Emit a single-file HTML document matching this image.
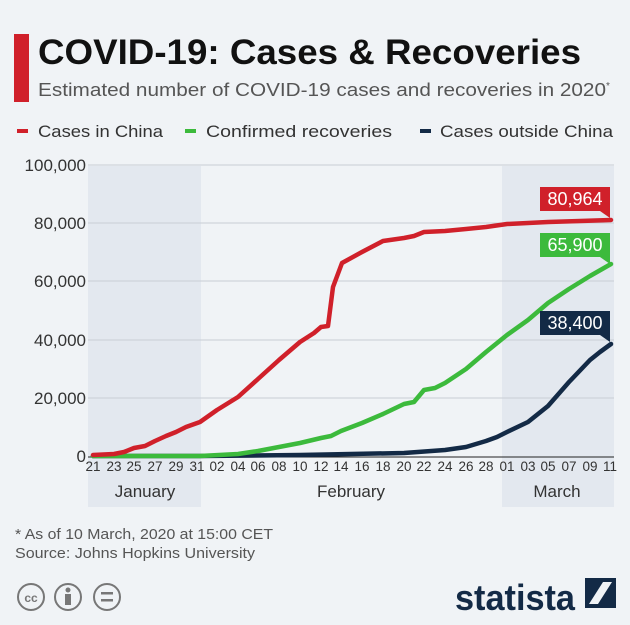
<!DOCTYPE html>
<html><head><meta charset="utf-8"><style>
body{margin:0;background:#f0f3f6;}
svg{display:block;font-family:"Liberation Sans",sans-serif;}
</style></head><body>
<svg width="630" height="625" viewBox="0 0 630 625" xmlns="http://www.w3.org/2000/svg">
<rect width="630" height="625" fill="#f0f3f6"/>
<rect x="14" y="34" width="15" height="68" fill="#d0202a"/>
<text x="38" y="64" font-size="35" font-weight="bold" fill="#111" textLength="543" lengthAdjust="spacingAndGlyphs">COVID-19: Cases &amp; Recoveries</text>
<text x="38" y="96" font-size="18.5" fill="#555"><tspan textLength="568" lengthAdjust="spacingAndGlyphs">Estimated number of COVID-19 cases and recoveries in 2020</tspan><tspan font-size="10" dy="-7">*</tspan></text>
<g font-size="17" fill="#333">
<rect x="17" y="129" width="11" height="4" fill="#d0202a"/><text x="38" y="137" textLength="125" lengthAdjust="spacingAndGlyphs">Cases in China</text>
<rect x="185" y="129" width="11" height="4" fill="#3cba3c"/><text x="206" y="137" textLength="186" lengthAdjust="spacingAndGlyphs">Confirmed recoveries</text>
<rect x="420" y="129" width="11" height="4" fill="#132a46"/><text x="440" y="137" textLength="173" lengthAdjust="spacingAndGlyphs">Cases outside China</text>
</g>
<rect x="88" y="166" width="113" height="341" fill="#e3e8ef"/>
<rect x="502" y="166" width="112" height="341" fill="#e3e8ef"/>
<g stroke="#c9ced4" stroke-width="1">
<line x1="88" y1="165" x2="614" y2="165"/><line x1="88" y1="223" x2="614" y2="223"/>
<line x1="88" y1="281" x2="614" y2="281"/><line x1="88" y1="340" x2="614" y2="340"/>
<line x1="88" y1="398" x2="614" y2="398"/>
</g>
<line x1="88" y1="457" x2="614" y2="457" stroke="#222" stroke-width="1"/>
<g font-size="17" fill="#333" text-anchor="end">
<text x="86" y="171">100,000</text><text x="86" y="229">80,000</text><text x="86" y="287">60,000</text>
<text x="86" y="346">40,000</text><text x="86" y="404">20,000</text><text x="86" y="462">0</text>
</g>
<g font-size="13.5" fill="#333" text-anchor="middle">
<text x="93" y="471">21</text><text x="114" y="471">23</text><text x="134" y="471">25</text><text x="155" y="471">27</text><text x="176" y="471">29</text><text x="197" y="471">31</text>
<text x="217" y="471">02</text><text x="238" y="471">04</text><text x="258" y="471">06</text><text x="279" y="471">08</text><text x="300" y="471">10</text><text x="321" y="471">12</text><text x="341" y="471">14</text><text x="362" y="471">16</text><text x="383" y="471">18</text><text x="404" y="471">20</text><text x="424" y="471">22</text><text x="445" y="471">24</text><text x="466" y="471">26</text><text x="486" y="471">28</text>
<text x="507" y="471">01</text><text x="528" y="471">03</text><text x="548" y="471">05</text><text x="569" y="471">07</text><text x="590" y="471">09</text><text x="610" y="471">11</text>
</g>
<g font-size="17" fill="#333" text-anchor="middle">
<text x="145" y="497">January</text><text x="351" y="497">February</text><text x="557" y="497">March</text>
</g>
<g fill="none" stroke-width="4.5" stroke-linejoin="round" stroke-linecap="round">
<polyline stroke="#132a46" points="93,456 200,456 300,455 404,453 445,450 466,447 486,441 497,437 507,432 528,422 548,406 569,382 590,360 600,352 611,344"/>
<polyline stroke="#3cba3c" points="93,456 200,456 238,454 258,451 279,447 300,443 321,438 331,436 341,431 362,423 383,414 404,404 414,402 424,390 435,388 445,383 466,369 486,352 507,335 528,320 548,303 569,289 590,276 611,264"/>
<polyline stroke="#d0202a" points="93,455 114,454 124,452 134,448 145,446 155,441 166,436 176,432 186,427 200,422 217,410 238,397 258,379 279,360 300,342 314,333 321,327 328,326 333,287 342,263 362,252 383,241 404,238 414,236 424,232 445,231 466,229 486,227 507,224 548,222 580,221 611,220"/>
</g>
<g font-size="18" fill="#fff" text-anchor="middle">
<rect x="540" y="187" width="70" height="24" fill="#d0202a"/><polygon points="600,211 610,211 610,218" fill="#d0202a"/><text x="575" y="205">80,964</text>
<rect x="540" y="233" width="70" height="24" fill="#3cba3c"/><polygon points="600,257 610,257 610,264" fill="#3cba3c"/><text x="575" y="251">65,900</text>
<rect x="540" y="311" width="70" height="24" fill="#132a46"/><polygon points="600,335 610,335 610,342" fill="#132a46"/><text x="575" y="329">38,400</text>
</g>
<g font-size="15" fill="#555">
<text x="15" y="539" textLength="258" lengthAdjust="spacingAndGlyphs">* As of 10 March, 2020 at 15:00 CET</text>
<text x="15" y="558" textLength="240" lengthAdjust="spacingAndGlyphs">Source: Johns Hopkins University</text>
</g>
<g fill="none" stroke="#777" stroke-width="2">
<circle cx="31" cy="597" r="13"/><circle cx="68" cy="597" r="13"/><circle cx="107" cy="597" r="13"/>
</g>
<text x="31" y="602" font-size="12" font-weight="bold" fill="#777" text-anchor="middle">cc</text>
<circle cx="68" cy="590" r="2.5" fill="#777"/><rect x="65" y="594" width="6" height="11" fill="#777"/>
<rect x="101" y="592" width="12" height="2.5" fill="#777"/><rect x="101" y="599" width="12" height="2.5" fill="#777"/>
<text x="455" y="610" font-size="36" font-weight="bold" fill="#132a46" textLength="120" lengthAdjust="spacingAndGlyphs">statista</text>
<rect x="585" y="578" width="31" height="30" fill="#132a46"/>
<polygon points="589,604 598,604 612,582 603,582" fill="#f0f3f6"/>
</svg>
</body></html>
